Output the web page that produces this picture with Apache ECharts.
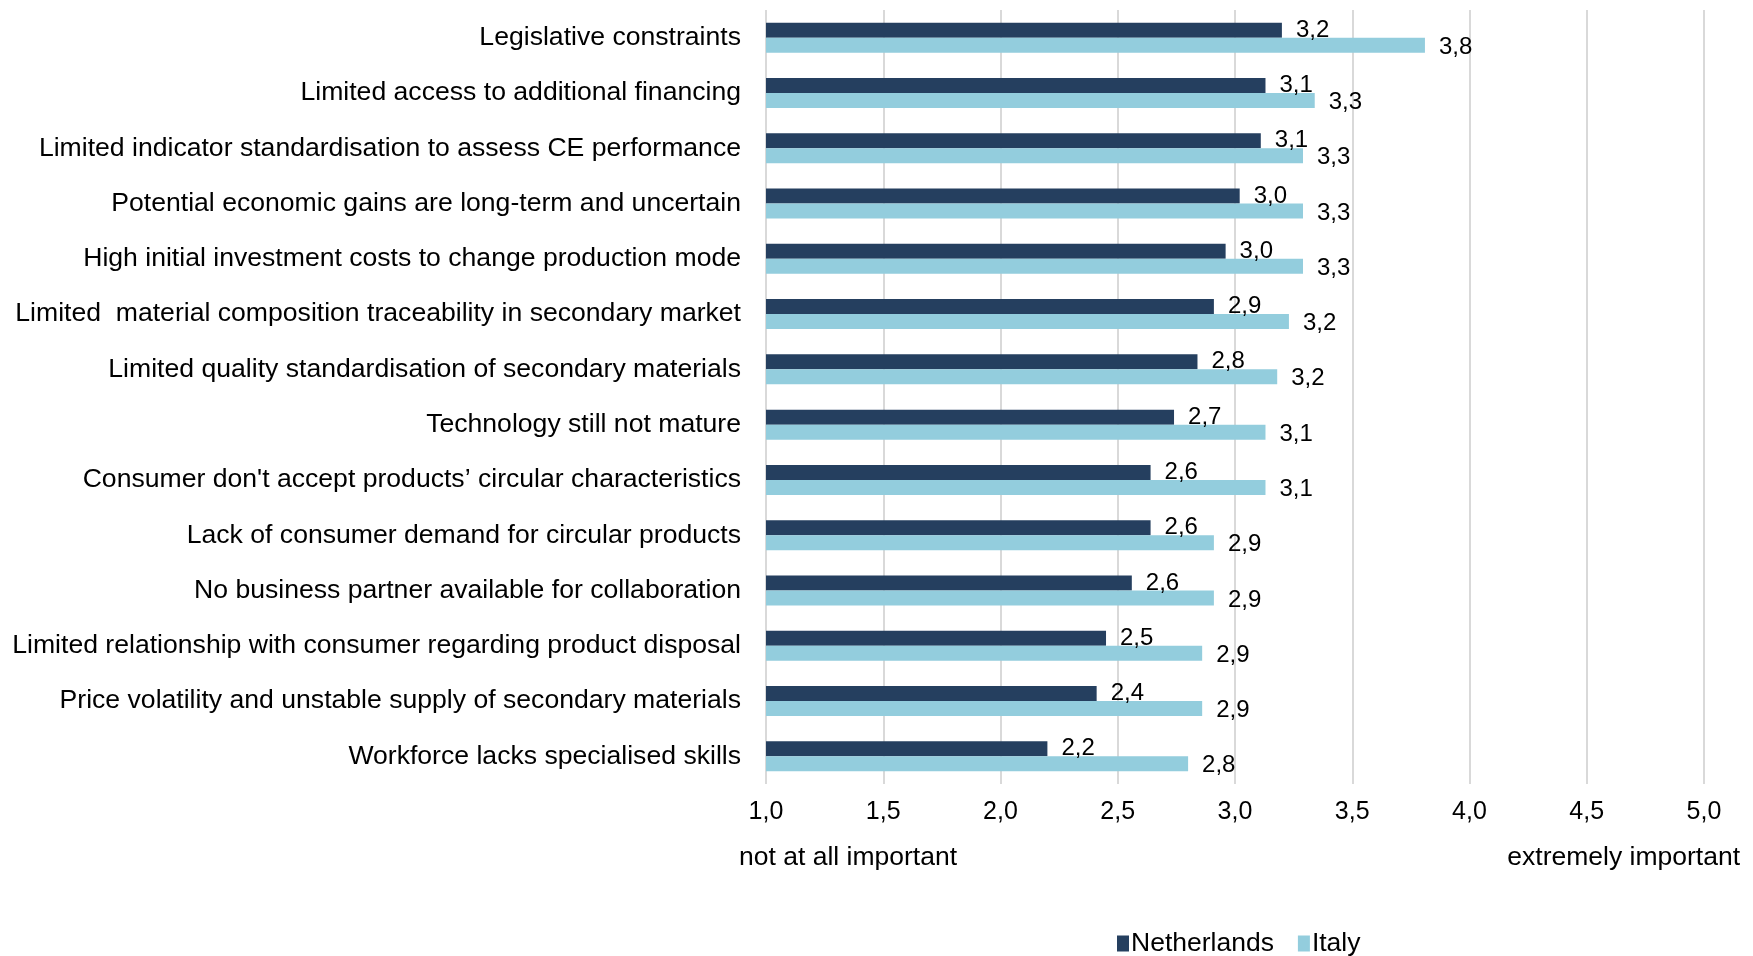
<!DOCTYPE html>
<html>
<head>
<meta charset="utf-8">
<script src="https://cdn.jsdelivr.net/npm/echarts@6/dist/echarts.min.js"></script>
<style>
html,body{margin:0;padding:0;background:#fff;}
#chart{width:1753px;height:956px;}
</style>
</head>
<body>
<div id="chart"></div>
<script>
// barrieres, van boven naar beneden
var categories = [
	'Legislative constraints',
	'Limited access to additional financing',
	'Limited indicator standardisation to assess CE performance',
	'Potential economic gains are long-term and uncertain',
	'High initial investment costs to change production mode',
	'Limited  material composition traceability in secondary market',
	'Limited quality standardisation of secondary materials',
	'Technology still not mature',
	"Consumer don't accept products\u2019 circular characteristics",
	'Lack of consumer demand for circular products',
	'No business partner available for collaboration',
	'Limited relationship with consumer regarding product disposal',
	'Price volatility and unstable supply of secondary materials',
	'Workforce lacks specialised skills'
];
var netherlands = [3.20, 3.13, 3.11, 3.02, 2.96, 2.91, 2.84, 2.74, 2.64, 2.64, 2.56, 2.45, 2.41, 2.20];
var italy = [3.81, 3.34, 3.29, 3.29, 3.29, 3.23, 3.18, 3.13, 3.13, 2.91, 2.91, 2.86, 2.86, 2.80];
var seriesNames = ['Netherlands', 'Italy'];
var scaleLow = 'not at all important';
var scaleHigh = 'extremely important';

function komma(v) {
	return v.toFixed(1).replace('.', ',');
}

var myChart = echarts.init(document.getElementById('chart'));
var font = 'Liberation Sans, Arial, sans-serif';

var option = {
	color: ['#253f5f', '#93cddd'],
	textStyle: {fontFamily: font, color: '#000'},
	animation: false,
	grid: {
		left: 766,
		right: 49,
		top: 10,
		height: 774
	},
	legend: {
		data: seriesNames,
		left: 1112,
		top: 925,
		icon: 'rect',
		itemWidth: 12,
		itemHeight: 16,
		itemGap: 24,
		textStyle: {fontSize: 26.5, color: '#000', fontFamily: font, padding: [0, 0, 0, -3]}
	},
	xAxis: {
		type: 'value',
		min: 1,
		max: 5,
		interval: 0.5,
		axisLine: {show: false},
		axisTick: {show: false},
		splitLine: {lineStyle: {color: '#d9d9d9', width: 2}},
		axisLabel: {
			margin: 16,
			fontSize: 25,
			color: '#000',
			fontFamily: font,
			formatter: function(v) { return komma(v); }
		}
	},
	yAxis: {
		type: 'category',
		data: categories,
		inverse: true,
		axisLine: {show: false},
		axisTick: {show: false},
		axisLabel: {
			margin: 25,
			fontSize: 26.6,
			color: '#000',
			fontFamily: font
		}
	},
	graphic: [
		{
			type: 'text',
			left: 739,
			top: 844,
			style: {text: scaleLow, fontSize: 26.5, fill: '#000', fontFamily: font}
		},
		{
			type: 'text',
			right: 13,
			top: 844,
			style: {text: scaleHigh, fontSize: 26.5, fill: '#000', fontFamily: font}
		}
	],
	series: [
		{
			name: seriesNames[0],
			type: 'bar',
			data: netherlands,
			barWidth: 15,
			barGap: '0%',
			label: {
				show: true,
				position: 'right',
				distance: 14,
				fontSize: 24,
				color: '#000',
				fontFamily: font,
				formatter: function(p) { return komma(p.value); }
			}
		},
		{
			name: seriesNames[1],
			type: 'bar',
			data: italy,
			barWidth: 15,
			barGap: '0%',
			label: {
				show: true,
				position: 'right',
				distance: 14,
				offset: [0, 2],
				fontSize: 24,
				color: '#000',
				fontFamily: font,
				formatter: function(p) { return komma(p.value); }
			}
		}
	]
};
myChart.setOption(option);
window.addEventListener('resize', function() {
	myChart.resize();
});
</script>
</body>
</html>
